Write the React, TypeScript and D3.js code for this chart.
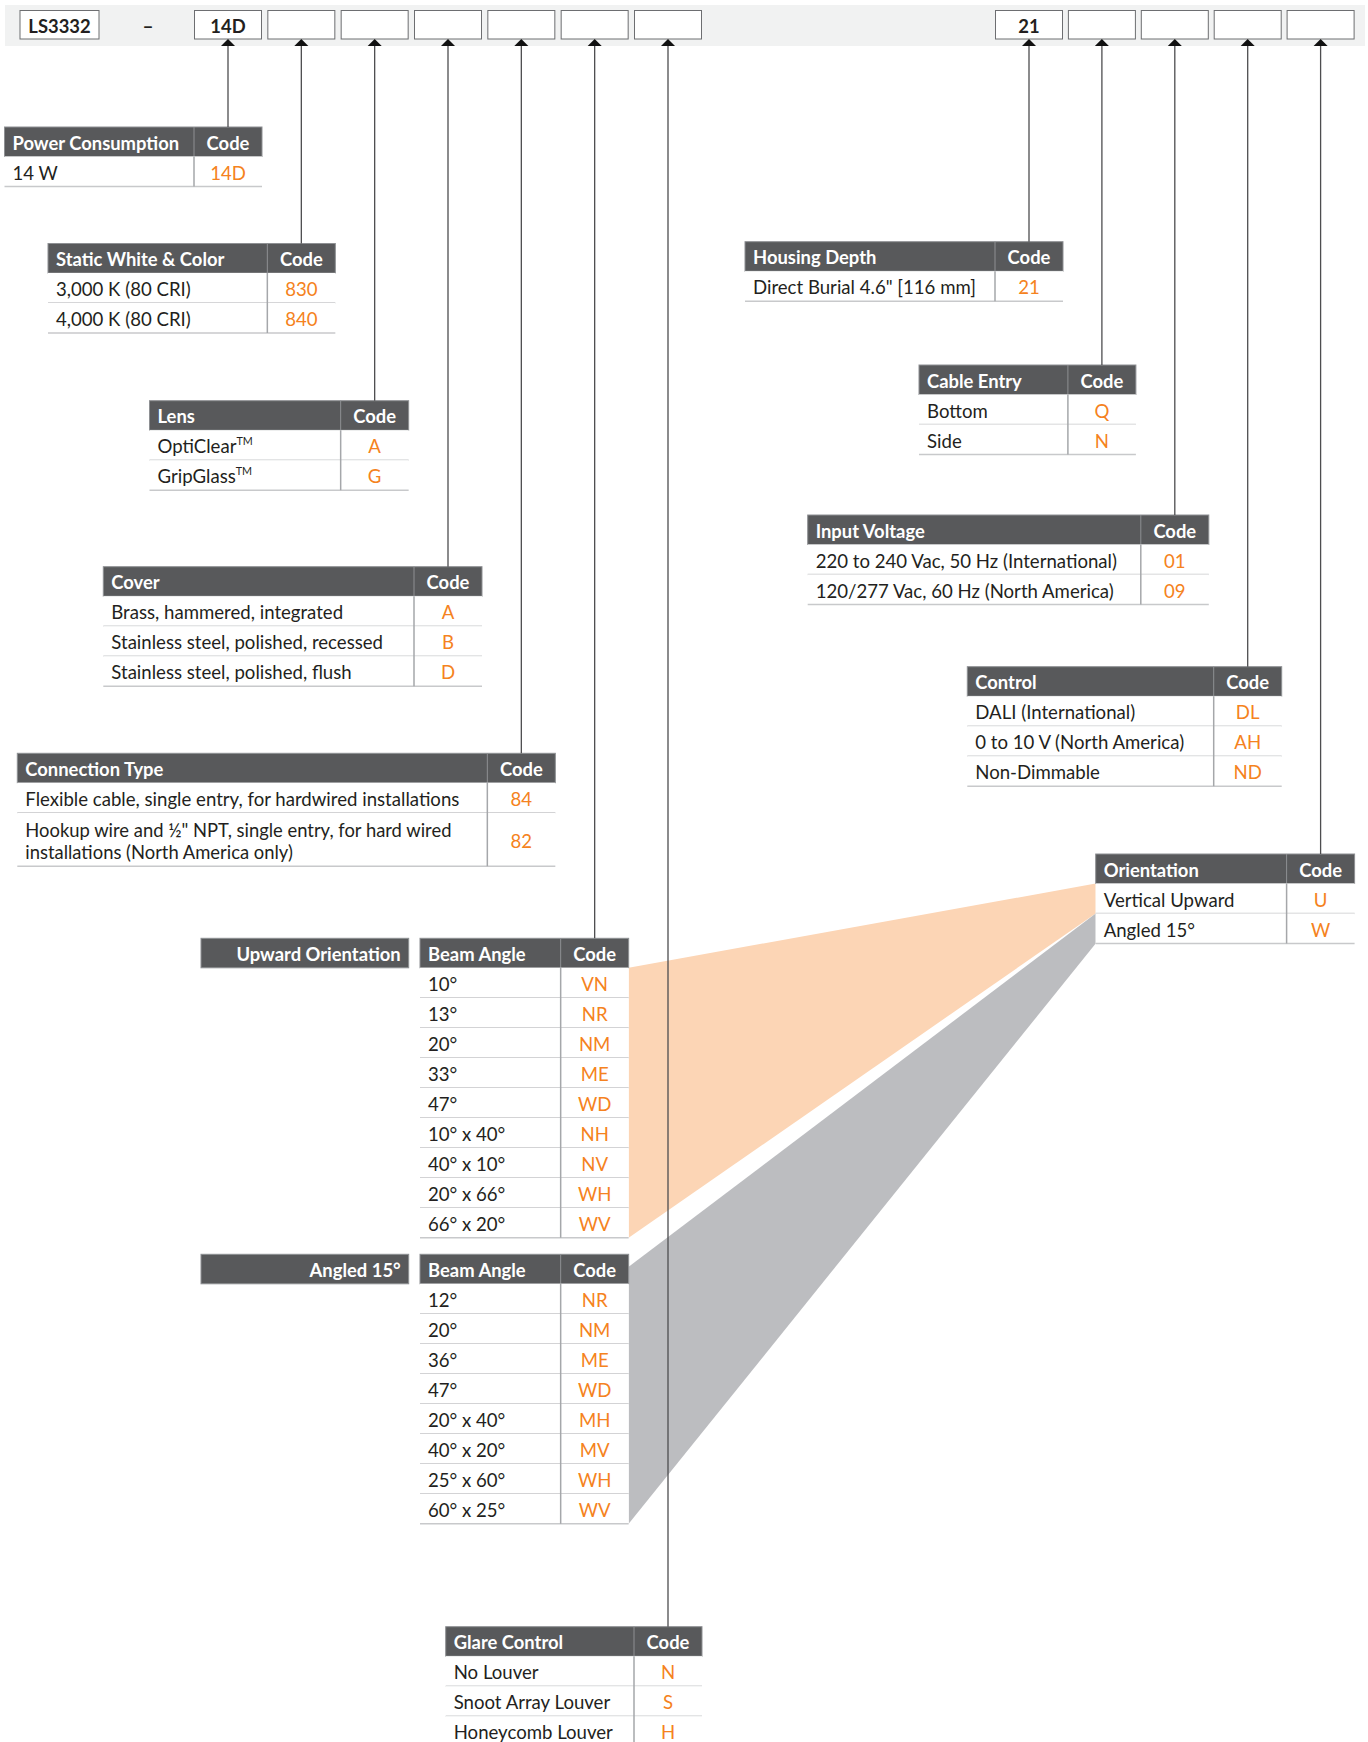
import React from "react";
import * as d3 from "d3";

const W = 1368;
const H = 1742;

// ---------- data ----------
const leftSlotCodes = ["14D", "", "", "", "", "", ""];
const rightSlotCodes = ["21", "", "", "", ""];
const prefixCode = "LS3332";

const powerRows = [["14 W", "14D"]];
const colorRows = [["3,000 K (80 CRI)", "830"], ["4,000 K (80 CRI)", "840"]];
const lensRows = [["OptiClear|TM", "A"], ["GripGlass|TM", "G"]];
const coverRows = [
  ["Brass, hammered, integrated", "A"],
  ["Stainless steel, polished, recessed", "B"],
  ["Stainless steel, polished, flush", "D"],
];
const connectionRows = [
  ["Flexible cable, single entry, for hardwired installations", "84"],
  ["Hookup wire and ½\" NPT, single entry, for hard wired\ninstallations (North America only)", "82"],
];
const upwardBeamRows = [
  ["10°", "VN"], ["13°", "NR"], ["20°", "NM"], ["33°", "ME"], ["47°", "WD"],
  ["10° x 40°", "NH"], ["40° x 10°", "NV"], ["20° x 66°", "WH"], ["66° x 20°", "WV"],
];
const angledBeamRows = [
  ["12°", "NR"], ["20°", "NM"], ["36°", "ME"], ["47°", "WD"],
  ["20° x 40°", "MH"], ["40° x 20°", "MV"], ["25° x 60°", "WH"], ["60° x 25°", "WV"],
];
const glareRows = [["No Louver", "N"], ["Snoot Array Louver", "S"], ["Honeycomb Louver", "H"]];
const housingRows = [["Direct Burial 4.6\" [116 mm]", "21"]];
const cableRows = [["Bottom", "Q"], ["Side", "N"]];
const voltageRows = [
  ["220 to 240 Vac, 50 Hz (International)", "01"],
  ["120/277 Vac, 60 Hz (North America)", "09"],
];
const controlRows = [["DALI (International)", "DL"], ["0 to 10 V (North America)", "AH"], ["Non-Dimmable", "ND"]];
const orientationRows = [["Vertical Upward", "U"], ["Angled 15°", "W"]];

// ---------- layout ----------
const FONT = "Lato, 'Open Sans', sans-serif";
const C_HEAD = "#58595b";
const C_TEXT = "#231f20";
const C_CODE = "#f58220";
const C_ROWLINE = "#c8c9cb";
const C_COLLINE = "#a5a7aa";
const C_CONN = "#4d4d4f";
const BODY_SIZE = 18.6;
const HEAD_SIZE = 18.4;

const xLeft = d3.scaleLinear().domain([0, 6]).range([228, 668]);
const xRight = d3.scaleLinear().domain([0, 4]).range([1029, 1320.6]);
const BOX_W = 67;
const BOX_TOP = 10.5;
const BOX_H = 28.5;
const BAND_TOP = 5;
const BAND_BOT = 46;
const HEAD_H = 29.5;
const ROW_H = 30;
const CODE_W = 68;

type TableSpec = {
  title: string;
  left: number;
  top: number;
  cx: number;
  rows: string[][];
  rowH?: number[];
  connect: boolean;
};

const tables: TableSpec[] = [
  { title: "Power Consumption", left: 4.5, top: 127, cx: xLeft(0), rows: powerRows, connect: true },
  { title: "Static White & Color", left: 48, top: 243.5, cx: xLeft(1), rows: colorRows, connect: true },
  { title: "Lens", left: 149.5, top: 400.7, cx: xLeft(2), rows: lensRows, connect: true },
  { title: "Cover", left: 103.3, top: 566.7, cx: xLeft(3), rows: coverRows, connect: true },
  { title: "Connection Type", left: 17.3, top: 753.3, cx: xLeft(4), rows: connectionRows, rowH: [30, 53.4], connect: true },
  { title: "Beam Angle", left: 420, top: 938.3, cx: xLeft(5), rows: upwardBeamRows, connect: true },
  { title: "Beam Angle", left: 420, top: 1254.3, cx: xLeft(5), rows: angledBeamRows, connect: false },
  { title: "Glare Control", left: 445.7, top: 1626.7, cx: xLeft(6), rows: glareRows, connect: true },
  { title: "Housing Depth", left: 745, top: 241.7, cx: xRight(0), rows: housingRows, connect: true },
  { title: "Cable Entry", left: 919, top: 365, cx: xRight(1), rows: cableRows, connect: true },
  { title: "Input Voltage", left: 807.7, top: 515, cx: xRight(2), rows: voltageRows, connect: true },
  { title: "Control", left: 967.3, top: 666.7, cx: xRight(3), rows: controlRows, connect: true },
  { title: "Orientation", left: 1095.7, top: 854, cx: xRight(4), rows: orientationRows, connect: true },
];

const labelBars = [
  { text: "Upward Orientation", left: 201, right: 408.7, top: 938.3 },
  { text: "Angled 15°", left: 201, right: 408.7, top: 1254.3 },
];

function rowTops(t: TableSpec) {
  const hs = t.rows.map((_, i) => (t.rowH ? t.rowH[i] : ROW_H));
  const tops: number[] = [];
  let y = t.top + HEAD_H;
  hs.forEach((h) => {
    tops.push(y);
    y += h;
  });
  return { hs, tops, bottom: y };
}

function Label({ s, x, y, anchor, fill, size, weight }: any) {
  const lines = s.split("\n");
  if (s.includes("|")) {
    const [main, sup] = s.split("|");
    return (
      <text x={x} y={y} textAnchor={anchor} fill={fill} fontSize={size} fontWeight={weight} fontFamily={FONT} dominantBaseline="central">
        {main}
        <tspan fontSize={size * 0.58} dy={-6}>{sup}</tspan>
      </text>
    );
  }
  if (lines.length > 1) {
    const lh = 22;
    return (
      <text x={x} textAnchor={anchor} fill={fill} fontSize={size} fontWeight={weight} fontFamily={FONT} dominantBaseline="central">
        {lines.map((l: string, i: number) => (
          <tspan key={i} x={x} y={y + (i - (lines.length - 1) / 2) * lh}>{l}</tspan>
        ))}
      </text>
    );
  }
  return (
    <text x={x} y={y} textAnchor={anchor} fill={fill} fontSize={size} fontWeight={weight} fontFamily={FONT} dominantBaseline="central">
      {s}
    </text>
  );
}

function Table({ t }: { t: TableSpec }) {
  const right = t.cx + CODE_W / 2;
  const div = t.cx - CODE_W / 2;
  const { hs, tops, bottom } = rowTops(t);
  return (
    <g>
      <rect x={t.left} y={t.top} width={right - t.left} height={HEAD_H} fill={C_HEAD} stroke="#8e9093" strokeWidth={1} />
      <line x1={div} x2={div} y1={t.top} y2={t.top + HEAD_H} stroke="#8e9093" strokeWidth={1} />
      <Label s={t.title} x={t.left + 8} y={t.top + HEAD_H / 2 + 1} anchor="start" fill="#ffffff" size={HEAD_SIZE} weight={700} />
      <Label s="Code" x={t.cx} y={t.top + HEAD_H / 2 + 1} anchor="middle" fill="#ffffff" size={HEAD_SIZE} weight={700} />
      {t.rows.map((r, i) => (
        <g key={i}>
          <rect x={t.left} y={tops[i]} width={right - t.left} height={hs[i]} fill="#ffffff" />
          <line x1={t.left} x2={right} y1={tops[i] + hs[i]} y2={tops[i] + hs[i]} stroke={C_ROWLINE} strokeWidth={1.5} />
          <Label s={r[0]} x={t.left + 8} y={tops[i] + hs[i] / 2 + 1} anchor="start" fill={C_TEXT} size={r[0].includes("\n") ? 18.4 : BODY_SIZE} weight={400} />
          <Label s={r[1]} x={t.cx} y={tops[i] + hs[i] / 2 + 1} anchor="middle" fill={C_CODE} size={BODY_SIZE} weight={400} />
        </g>
      ))}
      <line x1={div} x2={div} y1={t.top + HEAD_H} y2={bottom} stroke={C_COLLINE} strokeWidth={1.5} />
    </g>
  );
}

export default function App() {
  const orient = tables[12];
  const up = tables[5];
  const ang = tables[6];
  const oR = rowTops(orient);
  const upR = rowTops(up);
  const angR = rowTops(ang);
  const joinX = orient.left;
  const beamRight = up.cx + CODE_W / 2;

  const orangePts: [number, number][] = [
    [joinX, oR.tops[0]],
    [joinX, oR.tops[1]],
    [beamRight, upR.bottom],
    [beamRight, upR.tops[0]],
  ];
  const grayPts: [number, number][] = [
    [joinX, oR.tops[1]],
    [joinX, oR.bottom],
    [beamRight, angR.bottom],
    [beamRight, ang.top + 12.5],
  ];
  const poly = d3.line();

  const slots = [
    ...leftSlotCodes.map((c, i) => ({ x: xLeft(i), code: c })),
    ...rightSlotCodes.map((c, i) => ({ x: xRight(i), code: c })),
  ];

  const connectors = tables
    .filter((t) => t.connect)
    .map((t) => ({ x: t.cx, y2: t.top }));

  return (
    <svg width={W} height={H} style={{ position: "absolute", left: 0, top: 0, background: "#fff" }}>
      <rect x={BAND_TOP} y={BAND_TOP} width={W - 8} height={BAND_BOT - BAND_TOP} fill="#f1f2f2" />
      <rect x={20} y={BOX_TOP} width={79} height={BOX_H} fill="#fff" stroke="#6d6e71" strokeWidth={1} />
      <text x={59.5} y={BOX_TOP + BOX_H / 2 + 1} textAnchor="middle" dominantBaseline="central" fontFamily={FONT} fontWeight={700} fontSize={18.4} fill={C_TEXT}>
        {prefixCode}
      </text>
      <text x={148} y={BOX_TOP + BOX_H / 2 + 1} textAnchor="middle" dominantBaseline="central" fontFamily={FONT} fontWeight={700} fontSize={19} fill={C_TEXT}>
        –
      </text>
      {slots.map((s, i) => (
        <g key={i}>
          <rect x={s.x - BOX_W / 2} y={BOX_TOP} width={BOX_W} height={BOX_H} fill="#fff" stroke="#6d6e71" strokeWidth={1} />
          {s.code && (
            <text x={s.x} y={BOX_TOP + BOX_H / 2 + 1} textAnchor="middle" dominantBaseline="central" fontFamily={FONT} fontWeight={700} fontSize={18.4} fill={C_TEXT}>
              {s.code}
            </text>
          )}
        </g>
      ))}

      <path d={poly(orangePts) + "Z"} fill="#fcd5b5" />
      <path d={poly(grayPts) + "Z"} fill="#bcbdc0" />

      {labelBars.map((b, i) => (
        <g key={i}>
          <rect x={b.left} y={b.top} width={b.right - b.left} height={HEAD_H} fill={C_HEAD} stroke="#8e9093" strokeWidth={1} />
          <text x={b.right - 8} y={b.top + HEAD_H / 2 + 1} textAnchor="end" dominantBaseline="central" fontFamily={FONT} fontWeight={700} fontSize={HEAD_SIZE} fill="#fff">
            {b.text}
          </text>
        </g>
      ))}

      {tables.map((t, i) => (
        <Table key={i} t={t} />
      ))}

      {connectors.map((c, i) => (
        <line key={i} x1={c.x} x2={c.x} y1={BAND_BOT} y2={c.y2} stroke={C_CONN} strokeWidth={1.3} />
      ))}
      {slots.map((s, i) => (
        <path key={i} d={`M${s.x},${BOX_TOP + BOX_H} L${s.x - 7},${BAND_BOT} L${s.x + 7},${BAND_BOT} Z`} fill="#111" />
      ))}
    </svg>
  );
}
